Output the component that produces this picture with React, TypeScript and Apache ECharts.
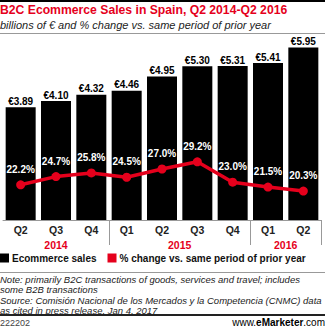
import React, { useEffect, useRef } from "react";
import * as echarts from "echarts";

const quarters = ["Q2", "Q3", "Q4", "Q1", "Q2", "Q3", "Q4", "Q1", "Q2"];
const years = ["2014", "2015", "2016"];
const yearPositions = [1, 4.5, 7.5];
const yearBoundaries = [3, 7];
const sales = [3.89, 4.1, 4.32, 4.46, 4.95, 5.3, 5.31, 5.41, 5.95];
const pctChange = [22.2, 24.7, 25.8, 24.5, 27.0, 29.2, 23.0, 21.5, 20.3];
const seriesNames = ["Ecommerce sales", "% change vs. same period of prior year"];

const FONT = "'Liberation Sans', Arial, sans-serif";
const RED = "#e5001c";

export default function App() {
  const ref = useRef<HTMLDivElement>(null);
  useEffect(() => {
    document.body.style.margin = "0";
    const chart = echarts.init(ref.current!, null, { renderer: "svg" });
    chart.setOption({
      animation: false,
      textStyle: { fontFamily: FONT },
      grid: { left: 3, right: 4, top: 46, bottom: 108, containLabel: false },
      legend: {
        left: 0,
        top: 253,
        width: 325,
        orient: "horizontal",
        itemWidth: 9,
        itemHeight: 9,
        itemGap: 11,
        padding: 0,
        selectedMode: false,
        textStyle: { fontFamily: FONT, fontWeight: "bold", fontSize: 10, color: "#111", padding: [0, 0, 0, -2] },
        data: [
          { name: seriesNames[0], icon: "rect", itemStyle: { color: "#000" } },
          { name: seriesNames[1], icon: "rect", itemStyle: { color: RED } },
        ],
      },
      xAxis: [
        {
          type: "category",
          data: quarters,
          axisLine: { lineStyle: { color: "#999", width: 1 } },
          axisTick: {
            show: true,
            length: 25,
            lineStyle: { color: "#999" },
            interval: (i: number) => yearBoundaries.includes(i),
          },
          axisLabel: { fontFamily: FONT, fontWeight: "bold", fontSize: 10.5, color: "#222", margin: 4 },
        },
        {
          type: "value",
          min: -0.5,
          max: 8.5,
          position: "bottom",
          offset: 15,
          axisLine: { show: false },
          axisTick: { show: false },
          splitLine: { show: false },
          axisLabel: {
            customValues: yearPositions,
            formatter: (v: number) => years[yearPositions.indexOf(v)] ?? "",
            fontFamily: FONT,
            fontWeight: "bold",
            fontSize: 10.5,
            color: RED,
            margin: 4,
          },
        },
      ],
      yAxis: [
        { type: "value", min: 0, max: 6, show: false },
        { type: "value", min: 11.5, max: 64.4, show: false },
      ],
      series: [
        {
          name: seriesNames[0],
          type: "bar",
          data: sales,
          barWidth: 30,
          itemStyle: { color: "#000" },
          label: {
            show: true,
            position: "top",
            distance: 1,
            formatter: (p: any) => "€" + p.value.toFixed(2),
            fontFamily: FONT,
            fontWeight: "bold",
            fontSize: 10,
            color: "#000",
          },
        },
        {
          name: seriesNames[1],
          type: "line",
          yAxisIndex: 1,
          data: pctChange,
          symbol: "circle",
          symbolSize: 9,
          lineStyle: { color: RED, width: 3.5 },
          itemStyle: { color: RED },
          label: {
            show: true,
            position: "top",
            distance: 6,
            formatter: (p: any) => p.value.toFixed(1) + "%",
            fontFamily: FONT,
            fontWeight: "bold",
            fontSize: 10,
            color: "#fff",
          },
        },
      ],
      graphic: [
        { type: "rect", shape: { x: 0, y: 0, width: 325, height: 2 }, style: { fill: "#000" } },
        {
          type: "text",
          x: 0,
          y: 4,
          style: { text: "B2C Ecommerce Sales in Spain, Q2 2014-Q2 2016", fill: RED, font: `bold 12.2px ${FONT}` },
        },
        {
          type: "text",
          x: 0,
          y: 19,
          style: { text: "billions of € and % change vs. same period of prior year", fill: "#222", font: `italic 11px ${FONT}` },
        },
        { type: "rect", shape: { x: 0, y: 33, width: 325, height: 1 }, style: { fill: "#999" } },
        { type: "rect", shape: { x: 0, y: 272, width: 325, height: 1 }, style: { fill: "#999" } },
        {
          type: "text",
          x: 0,
          y: 274,
          style: {
            text:
              "Note: primarily B2C transactions of goods, services and travel; includes\nsome B2B transactions\nSource: Comisión Nacional de los Mercados y la Competencia (CNMC) data\nas cited in press release, Jan 4, 2017",
            fill: "#222",
            font: `italic 9.5px ${FONT}`,
            lineHeight: 10.5,
          },
        },
        { type: "rect", shape: { x: 0, y: 314, width: 325, height: 2 }, style: { fill: "#222" } },
        {
          type: "text",
          x: 0,
          y: 318,
          style: { text: "222202", fill: "#444", font: `9px ${FONT}` },
        },
        {
          type: "text",
          x: 325,
          y: 317,
          style: {
            text: "{a|www.}{b|e}{c|Marketer}{a|.com}",
            align: "right",
            rich: {
              a: { fontFamily: FONT, fontSize: 10, color: "#444" },
              b: { fontFamily: FONT, fontSize: 10, fontWeight: "bold", color: RED },
              c: { fontFamily: FONT, fontSize: 10, fontWeight: "bold", color: "#444" },
            },
          },
        },
      ],
    });
    return () => chart.dispose();
  }, []);
  return <div ref={ref} style={{ width: 325, height: 328 }} />;
}
